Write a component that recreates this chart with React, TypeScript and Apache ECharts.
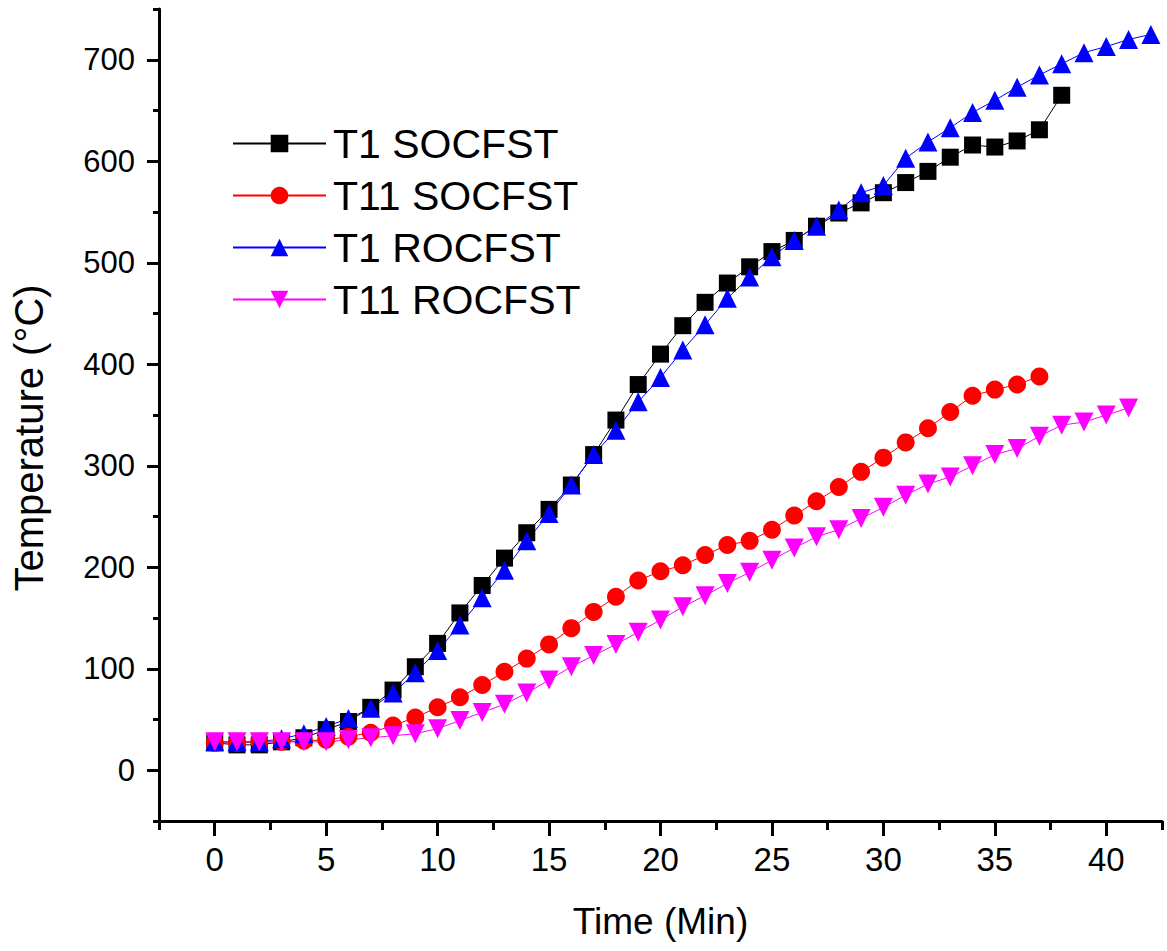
import React, { useEffect, useRef } from 'react';
import * as echarts from 'echarts';

// One reading per minute starting at 0 min
const t1SocfstTemps = [27, 25, 25, 28, 32, 40, 48, 62, 79, 102, 125, 155, 182, 209, 234, 257, 281, 311, 345, 380, 410, 438, 461, 480, 496, 511, 522, 536, 549, 559, 569, 579, 590, 604, 616, 614, 620, 631, 665];
const t11SocfstTemps = [27, 27, 28, 28, 29, 30, 33, 37, 44, 52, 62, 72, 84, 97, 110, 124, 140, 156, 171, 187, 196, 202, 212, 222, 226, 237, 251, 265, 279, 294, 308, 323, 337, 353, 369, 375, 380, 388];
const t1RocfstTemps = [28, 28, 28, 31, 36, 43, 51, 61, 76, 96, 118, 143, 170, 197, 226, 253, 281, 311, 335, 363, 387, 414, 439, 465, 486, 506, 522, 536, 552, 569, 576, 603, 619, 633, 648, 660, 673, 685, 696, 707, 713, 720, 725];
const t11RocfstTemps = [28, 28, 28, 28, 28, 28, 30, 32, 34, 36, 41, 49, 57, 65, 76, 89, 102, 113, 124, 136, 148, 161, 172, 184, 195, 207, 219, 230, 237, 248, 259, 271, 282, 289, 300, 311, 317, 329, 340, 343, 350, 357];

const seriesNames = ['T1 SOCFST', 'T11 SOCFST', 'T1 ROCFST', 'T11 ROCFST'];

const xMajorTicks = [0, 5, 10, 15, 20, 25, 30, 35, 40];
const xMinorTicks = [-2.5, 2.5, 7.5, 12.5, 17.5, 22.5, 27.5, 32.5, 37.5, 42.5];
const yMajorTicks = [0, 100, 200, 300, 400, 500, 600, 700];
const yMinorTicks = [-50, 50, 150, 250, 350, 450, 550, 650, 750];

const FONT = "'Liberation Sans', Arial, sans-serif";

const toPairs = (vals: number[]) => vals.map((v, i) => [i, v]);

export default function App() {
  const ref = useRef<HTMLDivElement>(null);
  useEffect(() => {
    if (!ref.current) return;
    const chart = echarts.init(ref.current, null, { renderer: 'svg' });
    const axisLineStyle = { color: '#000', width: 3 };
    const option: any = {
      animation: false,
      backgroundColor: '#fff',
      grid: { left: 159, right: 5, top: 9, bottom: 130, containLabel: false },
      legend: {
        orient: 'vertical',
        left: 227,
        top: 118,
        itemWidth: 93,
        itemHeight: 22,
        itemGap: 11,
        data: seriesNames,
        textStyle: { fontSize: 41, color: '#000', fontFamily: FONT, padding: [0, 0, 0, 2] },
      },
      xAxis: [
        {
          type: 'value',
          min: -2.5,
          max: 42.5,
          position: 'bottom',
          axisLine: { show: true, onZero: false, lineStyle: axisLineStyle },
          axisTick: { show: true, customValues: xMajorTicks, length: 15, lineStyle: axisLineStyle },
          axisLabel: { show: true, customValues: xMajorTicks, fontSize: 33, color: '#000', fontFamily: FONT, margin: 22 },
          splitLine: { show: false },
          name: 'Time (Min)',
          nameLocation: 'middle',
          nameGap: 82,
          nameTextStyle: { fontSize: 37, color: '#000', fontFamily: FONT },
        },
        {
          type: 'value',
          min: -2.5,
          max: 42.5,
          position: 'bottom',
          axisLine: { show: false, onZero: false },
          axisTick: { show: true, customValues: xMinorTicks, length: 9, lineStyle: axisLineStyle },
          axisLabel: { show: false },
          splitLine: { show: false },
        },
      ],
      yAxis: [
        {
          type: 'value',
          min: -50,
          max: 750,
          position: 'left',
          axisLine: { show: true, onZero: false, lineStyle: axisLineStyle },
          axisTick: { show: true, customValues: yMajorTicks, length: 12, lineStyle: axisLineStyle },
          axisLabel: { show: true, customValues: yMajorTicks, fontSize: 31, color: '#000', fontFamily: FONT, margin: 24 },
          splitLine: { show: false },
          name: 'Temperature (°C)',
          nameLocation: 'middle',
          nameGap: 110,
          nameTextStyle: { fontSize: 40, color: '#000', fontFamily: FONT, padding: [0, 46, 0, 0] },
        },
        {
          type: 'value',
          min: -50,
          max: 750,
          position: 'left',
          axisLine: { show: false, onZero: false },
          axisTick: { show: true, customValues: yMinorTicks, length: 6, lineStyle: axisLineStyle },
          axisLabel: { show: false },
          splitLine: { show: false },
        },
      ],
      series: [
        {
          name: seriesNames[0],
          type: 'line',
          data: toPairs(t1SocfstTemps),
          symbol: 'rect',
          symbolSize: 17,
          itemStyle: { color: '#000000' },
          lineStyle: { color: '#000000', width: 1 },
        },
        {
          name: seriesNames[1],
          type: 'line',
          data: toPairs(t11SocfstTemps),
          symbol: 'circle',
          symbolSize: 18,
          itemStyle: { color: '#ff0000' },
          lineStyle: { color: '#ff0000', width: 1 },
        },
        {
          name: seriesNames[2],
          type: 'line',
          data: toPairs(t1RocfstTemps),
          symbol: 'triangle',
          symbolSize: 19,
          itemStyle: { color: '#0000ff' },
          lineStyle: { color: '#0000ff', width: 1 },
        },
        {
          name: seriesNames[3],
          type: 'line',
          data: toPairs(t11RocfstTemps),
          symbol: 'triangle',
          symbolRotate: 180,
          symbolSize: 19,
          itemStyle: { color: '#ff00ff' },
          lineStyle: { color: '#ff00ff', width: 1 },
        },
      ],
    };
    chart.setOption(option);
    return () => chart.dispose();
  }, []);
  return (
    <div
      ref={ref}
      style={{ position: 'absolute', left: 0, top: 0, width: 1167, height: 951, background: '#fff' }}
    />
  );
}
